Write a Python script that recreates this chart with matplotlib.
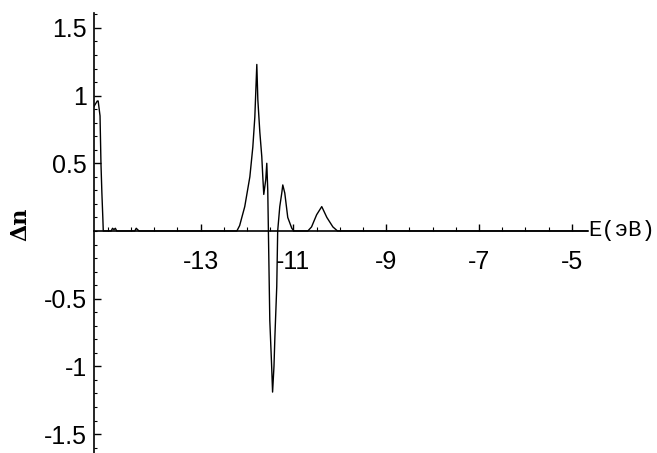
import numpy as np
import matplotlib
matplotlib.use("Agg")
import matplotlib.pyplot as plt
from matplotlib.ticker import FixedLocator, MultipleLocator, FuncFormatter

# Кривая Δn(E), значения
energy = [-15.30, -15.23, -15.21, -15.17, -15.15, -15.13, -15.11, -15.10,
          -14.93, -14.90, -14.87, -14.84, -14.81,
          -14.42, -14.39, -14.36, -14.33,
          -12.22, -12.16, -12.05, -11.94, -11.876, -11.833, -11.79, -11.768,
          -11.725, -11.683, -11.661, -11.64, -11.597, -11.575, -11.554,
          -11.51, -11.47, -11.45, -11.42, -11.40, -11.36, -11.34,
          -11.295, -11.252, -11.23, -11.187, -11.123, -11.036, -10.99,
          -10.69, -10.61, -10.50, -10.39, -10.28, -10.15, -10.05,
          -4.65]
delta_n = [0.92, 0.96, 0.96, 0.85, 0.50, 0.28, 0.10, 0.0,
           0.0, 0.02, 0.01, 0.02, 0.0,
           0.0, 0.02, 0.01, 0.0,
           0.0, 0.04, 0.18, 0.40, 0.62, 0.84, 1.23, 0.97,
           0.73, 0.55, 0.40, 0.27, 0.38, 0.50, 0.30,
           -0.66, -1.0, -1.19, -1.0, -0.78, -0.41, 0.0,
           0.18, 0.28, 0.34, 0.28, 0.10, 0.02, 0.0,
           0.0, 0.03, 0.12, 0.18, 0.10, 0.03, 0.0,
           0.0]

x_ticks = [-13, -11, -9, -7, -5]
y_ticks = [-1.5, -1, -0.5, 0.5, 1, 1.5]

tick_font = ["Liberation Sans", "DejaVu Sans"]

fig = plt.figure(figsize=(6.57, 4.53), dpi=100)
ax = fig.add_axes([94 / 657, 0.0, 494 / 657, 440 / 453])

ax.plot(energy, delta_n, color="black", lw=1.0)

ax.set_xlim(-15.30, -4.65)
ax.set_ylim(-1.64, 1.61)

# оси в стиле Mathematica
ax.spines["top"].set_visible(False)
ax.spines["right"].set_visible(False)
ax.spines["bottom"].set_position(("data", 0))
ax.spines["left"].set_linewidth(1.2)
ax.spines["bottom"].set_linewidth(1.2)

ax.xaxis.set_major_locator(FixedLocator(x_ticks))
ax.xaxis.set_minor_locator(MultipleLocator(0.5))
ax.yaxis.set_major_locator(FixedLocator(y_ticks))
ax.yaxis.set_minor_locator(MultipleLocator(0.1))
ax.xaxis.set_major_formatter(FuncFormatter(lambda v, _: f"{v:g}"))
ax.yaxis.set_major_formatter(FuncFormatter(lambda v, _: f"{v:g}"))

ax.tick_params(axis="x", which="major", direction="in", length=5, width=1, pad=14, labelsize=18)
ax.tick_params(axis="x", which="minor", direction="in", length=3, width=0.8)
ax.tick_params(axis="y", which="major", direction="in", length=5, width=1, pad=5, labelsize=18)
ax.tick_params(axis="y", which="minor", direction="in", length=2.5, width=0.8)
for lab in ax.get_xticklabels() + ax.get_yticklabels():
    lab.set_family(tick_font)

ax.text(1.0, 0, "E(эВ)", transform=ax.get_yaxis_transform(), ha="left", va="center",
        fontsize=16, family=["Liberation Mono", "DejaVu Sans Mono"])
fig.text(20 / 657, 1 - 224 / 453, "Δn", rotation=90, ha="center", va="center",
         fontsize=16, fontweight="bold", family="DejaVu Serif")

fig.savefig("out.png", dpi=100)
